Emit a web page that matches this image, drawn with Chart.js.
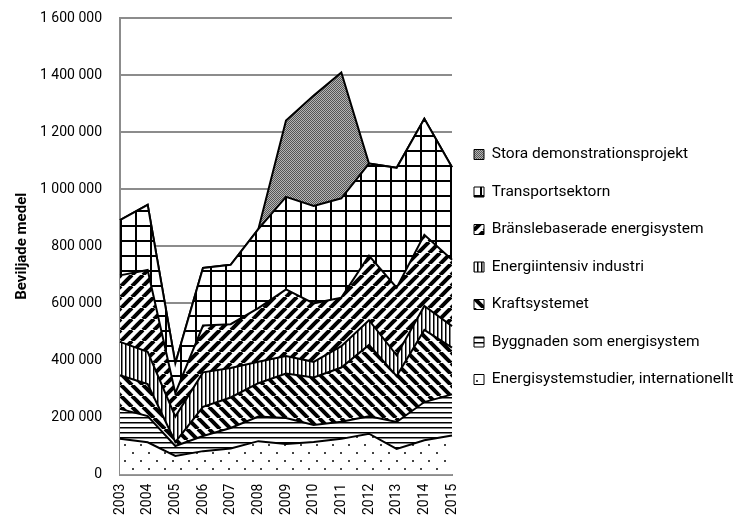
<!DOCTYPE html>
<html>
<head>
<meta charset="utf-8">
<script src="https://cdn.jsdelivr.net/npm/chart.js@4"></script>
<style>
  html, body { margin: 0; padding: 0; background: #fff; }
  #wrap { width: 740px; height: 519px; }
</style>
</head>
<body>
<div id="wrap"><canvas id="myChart"></canvas></div>
<script>
const years = ['2003', '2004', '2005', '2006', '2007', '2008', '2009', '2010', '2011', '2012', '2013', '2014', '2015'];

// bottom to top in the stack
const studier = [125000, 113000, 65000, 82000, 91000, 117000, 107000, 114000, 125000, 143000, 90000, 120000, 137000];
const byggnaden = [105000, 92000, 35000, 53000, 72000, 86000, 91000, 60000, 60000, 61000, 94000, 134000, 144000];
const kraft = [118000, 112000, 14000, 102000, 107000, 117000, 156000, 166000, 190000, 250000, 161000, 253000, 164000];
const industri = [117000, 113000, 89000, 121000, 103000, 75000, 61000, 55000, 75000, 87000, 73000, 84000, 75000];
const bransle = [233000, 287000, 82000, 164000, 154000, 188000, 234000, 205000, 170000, 226000, 237000, 249000, 233000];
const transport = [194000, 228000, 105000, 202000, 208000, 277000, 324000, 341000, 348000, 323000, 420000, 407000, 324000];
const stora = [0, 0, 0, 0, 0, 0, 268000, 387000, 441000, 0, 0, 0, 0];

const yTicks = [0, 200000, 400000, 600000, 800000, 1000000, 1200000, 1400000, 1600000];

const FONT = "Roboto, 'Liberation Sans', sans-serif";
const LEGEND_W = 286;

function makePattern(w, h, draw) {
  const c = document.createElement('canvas');
  c.width = w;
  c.height = h;
  const g = c.getContext('2d');
  g.fillStyle = '#fff';
  g.fillRect(0, 0, w, h);
  g.strokeStyle = '#000';
  g.fillStyle = '#000';
  draw(g);
  return g.createPattern(c, 'repeat');
}

const dotsPat = makePattern(16, 16, g => {
  g.fillStyle = '#444';
  g.fillRect(4, 4, 2, 2);
  g.fillRect(12, 12, 2, 2);
});
const hLinesPat = makePattern(5, 5, g => {
  g.fillRect(0, 2, 5, 1.5);
});
const backPat = makePattern(11, 11, g => {
  g.lineWidth = 4;
  for (let x0 = -11; x0 <= 11; x0 += 11) {
    g.beginPath(); g.moveTo(x0, 0); g.lineTo(x0 + 11, 11); g.stroke();
  }
});
const vLinesPat = makePattern(4, 4, g => {
  g.fillRect(1, 0, 1.5, 4);
});
const fwdPat = makePattern(11, 11, g => {
  g.lineWidth = 4;
  for (let x0 = -11; x0 <= 11; x0 += 11) {
    g.beginPath(); g.moveTo(x0, 11); g.lineTo(x0 + 11, 0); g.stroke();
  }
});
const gridPat = makePattern(15, 15, g => {
  g.fillRect(0, 0, 15, 2);
  g.fillRect(0, 0, 2, 15);
});
const grayPat = makePattern(2, 2, g => {
  g.fillStyle = '#b5b5b5';
  g.fillRect(0, 0, 2, 2);
  g.fillStyle = '#555';
  g.fillRect(0, 0, 1, 1);
  g.fillRect(1, 1, 1, 1);
});

const series = [
  { label: 'Energisystemstudier, internationellt', data: studier, bg: dotsPat },
  { label: 'Byggnaden som energisystem', data: byggnaden, bg: hLinesPat },
  { label: 'Kraftsystemet', data: kraft, bg: backPat },
  { label: 'Energiintensiv industri', data: industri, bg: vLinesPat },
  { label: 'Bränslebaserade energisystem', data: bransle, bg: fwdPat },
  { label: 'Transportsektorn', data: transport, bg: gridPat },
  { label: 'Stora demonstrationsprojekt', data: stora, bg: grayPat }
];

function fmt(v) {
  return String(v).replace(/\B(?=(\d{3})+(?!\d))/g, ' ');
}

// keep the legend column at a fixed width so the plot area matches
const legendFit = {
  id: 'legendFit',
  beforeLayout(chart) {
    const lg = chart.legend;
    if (lg && !lg._fixed) {
      const orig = lg.fit;
      lg.fit = function () {
        orig.call(this);
        this.width = LEGEND_W;
      };
      lg._fixed = true;
    }
  }
};

const ctx = document.getElementById('myChart');
new Chart(ctx, {
  type: 'line',
  data: {
    labels: years,
    datasets: series.map((s, i) => ({
      label: s.label,
      data: s.data,
      backgroundColor: s.bg,
      borderColor: '#000',
      borderWidth: 2,
      fill: i === 0 ? 'origin' : '-1',
      pointRadius: 0,
      tension: 0
    }))
  },
  plugins: [legendFit],
  options: {
    responsive: true,
    maintainAspectRatio: false,
    animation: false,
    layout: { autoPadding: false, padding: { top: 18, left: 13, bottom: 3, right: 2 } },
    plugins: {
      tooltip: { enabled: false },
      legend: {
        position: 'right',
        reverse: true,
        labels: {
          color: '#000',
          font: { family: FONT, size: 15.5 },
          boxWidth: 10,
          boxHeight: 10,
          padding: 22,
          generateLabels(chart) {
            const items = Chart.defaults.plugins.legend.labels.generateLabels(chart);
            items.forEach(it => { it.lineWidth = 1; });
            return items;
          }
        }
      }
    },
    scales: {
      x: {
        offset: false,
        grid: { display: false },
        border: { color: '#8c8c8c', width: 2 },
        ticks: {
          color: '#000',
          padding: 1,
          minRotation: 90,
          maxRotation: 90,
          font: { family: FONT, size: 14 }
        }
      },
      y: {
        stacked: true,
        min: 0,
        max: 1600000,
        afterBuildTicks(axis) {
          axis.ticks = yTicks.map(v => ({ value: v }));
        },
        afterFit(axis) {
          axis.width = 107;
        },
        grid: { color: '#8c8c8c', lineWidth: 2, drawTicks: true, tickLength: 16, tickColor: 'rgba(0,0,0,0)' },
        border: { color: '#8c8c8c', width: 2 },
        ticks: {
          color: '#000',
          padding: 2,
          font: { family: FONT, size: 14 },
          callback: v => fmt(v)
        },
        title: {
          display: true,
          text: 'Beviljade medel',
          color: '#000',
          padding: { top: 0, bottom: 0 },
          font: { family: FONT, size: 15, weight: 'bold' }
        }
      }
    }
  }
});
</script>
</body>
</html>
